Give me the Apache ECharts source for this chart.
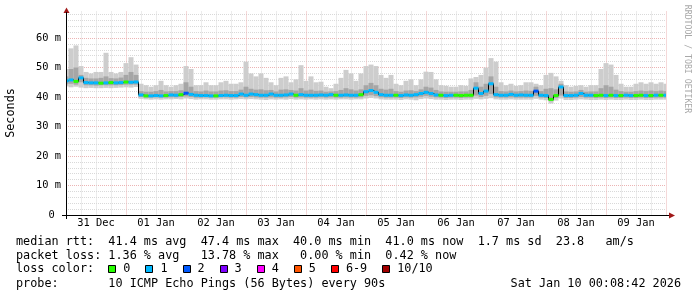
<!DOCTYPE html>
<html>
<head>
<meta charset="utf-8">
<script src="https://cdn.jsdelivr.net/npm/echarts@6/dist/echarts.min.js"></script>
<style>
html,body{margin:0;padding:0;background:#fff;}
#c{width:697px;height:297px;}
</style>
</head>
<body>
<div id="c"></div>
<script>
// ---- data (one sample every 2 hours, starting 31 Dec 00:00) ----
const stepHours = 2;
const dayLabels = ['31 Dec','01 Jan','02 Jan','03 Jan','04 Jan','05 Jan','06 Jan','07 Jan','08 Jan','09 Jan'];
const yTickLabels = ['0 ','10 m','20 m','30 m','40 m','50 m','60 m'];

const median = [
45.5,45.8,45.3,46.5,44.9,44.8,44.8,44.7,44.8,44.9,
44.8,44.9,45.1,45.0,45.1,40.7,40.4,40.4,40.5,40.4,
40.5,40.7,40.6,40.8,41.3,40.9,40.6,40.5,40.5,40.4,
40.4,40.5,40.6,40.5,40.5,41.0,40.6,41.0,40.8,40.6,
40.6,41.0,40.6,40.6,40.7,41.0,40.6,40.8,40.6,40.6,
40.6,40.7,40.6,40.8,40.6,40.6,40.7,40.6,40.6,40.8,
41.8,42.2,41.6,40.8,40.6,40.6,40.6,40.5,40.7,40.6,
40.8,41.2,41.6,41.2,40.7,40.6,40.5,40.6,40.6,40.5,
40.6,40.6,43.0,41.2,42.0,44.5,40.8,40.6,40.6,40.9,
40.6,40.7,40.6,40.6,42.0,40.6,40.5,39.2,40.5,43.4,
40.5,40.5,40.6,41.2,40.6,40.6,40.5,40.6,40.5,40.6,
40.5,40.5,40.6,40.5,40.5,40.6,40.5,40.5,40.6,40.6,
40.6];

const loss = [
1,1,0,1,1,1,1,0,1,0,
1,1,0,1,1,1,0,1,1,1,
0,1,1,0,2,1,1,1,1,1,
0,1,1,1,1,1,1,1,1,1,
1,1,1,1,1,1,0,1,1,1,
1,1,1,1,0,1,1,1,1,0,
1,1,1,1,1,1,0,1,1,1,
1,1,1,1,1,0,1,1,0,0,
0,0,1,1,1,1,1,1,1,1,
1,1,1,1,2,1,1,0,0,1,
1,1,1,1,1,1,0,0,1,0,
1,0,1,1,0,0,1,0,1,0,
1];

const smokeMin = [
43.6,43.3,43.5,43.2,43.0,43.1,43.0,43.0,43.1,43.0,
43.1,43.2,43.3,43.2,43.4,39.4,39.2,39.1,39.2,39.1,
39.2,39.2,39.3,39.2,39.5,39.3,39.1,39.2,39.2,39.1,
39.1,39.2,39.2,39.1,39.2,39.3,39.2,39.3,39.2,39.1,
39.0,39.2,39.1,39.2,39.1,39.3,39.1,39.2,39.1,39.2,
39.1,39.2,39.1,39.2,39.1,39.2,39.2,39.1,39.2,39.2,
39.5,39.7,39.5,39.2,39.1,39.1,39.1,39.0,39.2,39.1,
38.9,39.3,39.5,39.3,39.1,39.1,39.0,39.1,39.1,39.0,
39.1,39.1,39.4,39.2,39.4,39.6,39.2,39.1,39.1,39.2,
39.1,39.1,39.1,39.1,39.4,39.1,38.9,37.8,38.8,39.5,
39.0,39.0,39.1,39.2,39.1,39.0,39.0,39.1,39.0,39.1,
39.0,39.0,39.1,39.0,39.0,39.1,39.0,39.0,39.1,39.1,
39.1];

const smokeLo = [
44.3,44.5,44.2,45.0,44.0,44.0,43.9,44.0,44.0,44.0,
44.0,44.1,44.2,44.2,44.2,40.0,39.8,39.8,39.9,39.8,
39.8,39.9,39.9,40.0,40.2,40.0,39.8,39.8,39.9,39.8,
39.8,39.9,39.9,39.8,39.8,40.0,39.9,40.0,39.9,39.8,
39.8,39.9,39.8,39.8,39.9,40.0,39.8,39.9,39.8,39.8,
39.8,39.9,39.8,39.9,39.8,39.8,39.9,39.8,39.8,39.9,
40.4,40.6,40.3,39.9,39.8,39.8,39.8,39.7,39.9,39.8,
39.9,40.1,40.4,40.1,39.9,39.8,39.7,39.8,39.8,39.7,
39.8,39.8,40.5,40.0,40.4,41.0,39.9,39.8,39.8,39.9,
39.8,39.8,39.8,39.8,40.4,39.8,39.7,38.6,39.7,40.5,
39.7,39.7,39.8,40.0,39.8,39.8,39.7,39.8,39.7,39.8,
39.7,39.7,39.8,39.7,39.7,39.8,39.7,39.7,39.8,39.8,
39.8];

const smokeHi = [
47.0,49.5,50.0,47.5,46.5,46.3,46.3,46.5,47.0,46.4,
46.3,46.6,47.5,48.5,47.5,42.0,41.8,41.8,42.0,42.4,
41.9,42.0,42.0,42.3,45.0,43.5,42.0,41.9,42.2,41.9,
41.9,42.2,42.3,42.0,42.0,42.5,43.5,42.8,42.5,42.6,
42.3,42.4,41.9,42.5,42.6,42.4,42.2,43.0,42.2,42.5,
42.1,42.2,41.8,41.9,42.0,42.4,43.0,42.6,42.2,42.6,
44.0,44.8,44.0,42.8,42.5,42.8,42.0,41.8,42.2,42.3,
42.0,42.6,43.5,43.2,42.4,41.9,41.8,41.8,41.8,41.9,
41.9,42.4,45.0,43.5,44.5,47.0,43.5,42.0,41.9,42.2,
41.9,42.0,42.2,42.1,43.5,42.0,42.8,43.0,42.6,44.5,
41.9,41.8,41.9,42.4,41.8,41.9,41.9,43.0,44.0,43.5,
42.5,42.0,41.8,41.8,42.0,42.2,42.0,42.2,42.0,42.2,
42.0];

const smokeMax = [
49.5,56.5,57.5,50.5,48.5,48.0,48.5,48.5,55.0,48.5,
48.0,48.5,51.5,53.5,51.0,44.5,44.0,43.5,44.0,45.5,
44.0,43.5,44.0,44.5,50.5,49.5,44.0,44.0,45.0,44.0,
44.0,45.0,45.5,44.5,44.5,45.0,52.0,48.0,47.0,48.0,
46.5,45.0,44.0,46.5,47.0,45.0,46.0,50.8,45.5,47.0,
45.0,45.2,43.5,43.0,44.5,46.5,49.2,48.0,45.5,48.0,
50.5,51.0,50.5,47.5,46.5,47.5,44.5,44.0,45.5,46.0,
44.0,46.0,48.6,48.5,46.0,44.0,43.8,43.5,43.5,44.0,
43.8,46.3,46.8,47.5,50.0,53.2,52.0,45.0,44.0,44.5,
43.8,44.0,45.0,45.0,44.5,44.0,47.5,48.2,47.0,45.5,
44.0,43.5,43.8,44.0,43.5,44.0,44.0,49.5,51.5,51.0,
47.5,44.5,43.5,43.5,44.5,45.0,44.5,45.0,44.5,45.0,
44.5];

const lossColors = ['#26ff00','#00b8ff','#0059ff','#7e00ff','#ff00ff','#ff5500','#ff0000','#a10000'];
const lossLabels = ['0','1','2','3','4','5','6-9','10/10'];

const legendLine1 = 'median rtt:  41.4 ms avg  47.4 ms max  40.0 ms min  41.0 ms now  1.7 ms sd  23.8   am/s';
const legendLine2 = 'packet loss: 1.36 % avg   13.78 % max   0.00 % min  0.42 % now';
const legendLine3 = 'loss color:';
const legendLine4 = 'probe:       10 ICMP Echo Pings (56 Bytes) every 90s';
const stamp = 'Sat Jan 10 00:08:42 2026';
const yTitle = 'Seconds';
const sideText = 'RRDTOOL / TOBI OETIKER';

// ---- build ----
const hrs = median.map((_, i) => i * stepHours);
const LEG_FONT = '11.8px "DejaVu Sans Mono"';
const CH = 7.1;

const chart = echarts.init(document.getElementById('c'), null, {renderer: 'canvas'});

const graphic = [];
graphic.push({type:'text', x:16, y:242, style:{text:legendLine1, font:LEG_FONT, fill:'#000', verticalAlign:'middle'}});
graphic.push({type:'text', x:16, y:255.7, style:{text:legendLine2, font:LEG_FONT, fill:'#000', verticalAlign:'middle'}});
graphic.push({type:'text', x:16, y:269.4, style:{text:legendLine3, font:LEG_FONT, fill:'#000', verticalAlign:'middle'}});
let bx = 16 + 13 * CH;
lossLabels.forEach((lab, k) => {
  graphic.push({type:'rect', x: Math.round(bx) + 0.5, y: 265.5, shape:{x:0, y:0, width:7, height:7}, style:{fill: lossColors[k], stroke:'#000', lineWidth:1}});
  graphic.push({type:'text', x: bx + 15, y:269.4, style:{text: lab, font:LEG_FONT, fill:'#000', verticalAlign:'middle'}});
  bx += 30 + CH * lab.length;
});
graphic.push({type:'text', x:16, y:284.3, style:{text:legendLine4, font:LEG_FONT, fill:'#000', verticalAlign:'middle'}});
graphic.push({type:'text', x:681, y:284.3, style:{text:stamp, font:LEG_FONT, fill:'#000', align:'right', verticalAlign:'middle'}});
graphic.push({type:'text', x:11, y:113, rotation: Math.PI/2, style:{text:yTitle, font:LEG_FONT, fill:'#000', align:'center', verticalAlign:'middle'}});
graphic.push({type:'text', x:687, y:59, rotation: -Math.PI/2, style:{text:sideText, font:'8.2px "DejaVu Sans Mono"', fill:'#a8a8a8', align:'center', verticalAlign:'middle'}});
// axis lines and arrows
graphic.push({type:'polygon', shape:{points:[[66.5,7.5],[63.5,13],[69.5,13]]}, style:{fill:'#a01818'}, z:100});
graphic.push({type:'polygon', shape:{points:[[675,215.5],[669,212.5],[669,218.5]]}, style:{fill:'#a01818'}, z:100});
graphic.push({type:'line', shape:{x1:62, y1:215.5, x2:669, y2:215.5}, style:{stroke:'#000', lineWidth:1}, z:100});
graphic.push({type:'line', shape:{x1:66.5, y1:12, x2:66.5, y2:219}, style:{stroke:'#000', lineWidth:1}, z:100});

// band drawn as one rect per sample, from lower to upper array
function bandSeries(name, lower, upper, color, z) {
  return {
    type: 'custom', name: name, silent: true, z: z,
    data: hrs.map((h, i) => [h, lower[i], upper[i]]),
    encode: {x: 0, y: [1, 2]},
    renderItem: function (params, api) {
      const h = api.value(0);
      const a = api.coord([h - stepHours / 2, api.value(2)]);
      const b = api.coord([h + stepHours / 2, api.value(1)]);
      const cs = params.coordSys;
      const r = echarts.graphic.clipRectByRect(
        {x: a[0], y: a[1], width: b[0] - a[0], height: b[1] - a[1]},
        {x: cs.x, y: cs.y, width: cs.width, height: cs.height});
      if (!r) return null;
      return {type: 'rect', shape: r, style: {fill: color}};
    }
  };
}

const MAJOR = '#ecb4b4', MINOR = '#d9d9d9';
const option = {
  animation: false,
  backgroundColor: '#fff',
  grid: {left: 66, top: 11.5, width: 600, height: 203.5, containLabel: false},
  xAxis: {
    type: 'value', min: 0, max: 240, interval: 6,
    axisLine: {show: false},
    axisTick: {show: false},
    axisLabel: {
      fontFamily: 'DejaVu Sans Mono', fontSize: 10.4, color: '#000', margin: 3,
      formatter: v => (v % 24 === 12 ? dayLabels[(v - 12) / 24] : '')
    },
    splitLine: {show: true, showMinLine: true, showMaxLine: true,
      lineStyle: {color: [MAJOR, MINOR, MINOR, MINOR], type: [1, 1], width: 1}}
  },
  yAxis: {
    type: 'value', min: 0, max: 69, interval: 2,
    axisLine: {show: false},
    axisTick: {show: false},
    axisLabel: {
      fontFamily: 'DejaVu Sans Mono', fontSize: 10.4, color: '#000', margin: 5,
      showMaxLabel: false,
      formatter: v => (v % 10 === 0 ? yTickLabels[v / 10] : '')
    },
    splitLine: {show: true, showMinLine: true, showMaxLine: false,
      lineStyle: {color: [MAJOR, MINOR, MINOR, MINOR, MINOR], type: [1, 1], width: 1}}
  },
  series: [
    bandSeries('smokeOuter', smokeMin, smokeMax, '#cdcdcd', 1),
    bandSeries('smokeInner', smokeLo, smokeHi, '#a6a6a6', 2),
    {type:'line', name:'median', step:'middle', showSymbol:false, symbol:'none', silent:true,
      data: hrs.map((h, i) => [h, median[i]]), lineStyle:{color:'#000', width:1}, z: 3},
    {type:'custom', name:'loss', silent:true, z: 4,
      data: hrs.map((h, i) => [h, median[i], loss[i]]),
      encode: {x: 0, y: 1},
      renderItem: function (params, api) {
        const h = api.value(0), m = api.value(1), l = api.value(2);
        const a = api.coord([h - stepHours / 2, m]);
        const b = api.coord([h + stepHours / 2, m]);
        const cs = params.coordSys;
        const r = echarts.graphic.clipRectByRect(
          {x: a[0], y: a[1] - 1.5, width: b[0] - a[0], height: 3},
          {x: cs.x, y: cs.y, width: cs.width, height: cs.height});
        if (!r) return null;
        return {type: 'rect', shape: r, style: {fill: lossColors[l]}};
      }}
  ],
  graphic: graphic
};
chart.setOption(option);
</script>
</body>
</html>
